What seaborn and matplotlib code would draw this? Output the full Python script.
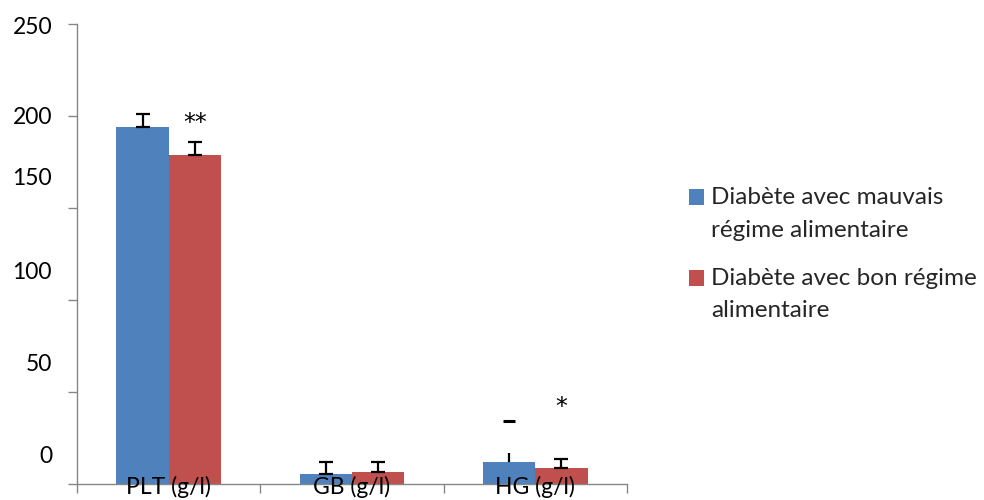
import numpy as np
import pandas as pd
import matplotlib
matplotlib.use("Agg")
import matplotlib.pyplot as plt
from matplotlib.patches import Rectangle
from matplotlib.legend_handler import HandlerPatch
import seaborn as sns

# ---- data ----
categories = ["PLT (g/l)", "GB (g/l)", "HG (g/l)"]
series_names = ["Diabète avec mauvais\nrégime alimentaire",
                "Diabète avec bon régime\nalimentaire"]
bad_diet = [194, 5.5, 12]
good_diet = [179, 6.5, 8.7]
bad_err = [7, 6.5, 5]
good_err = [7, 5.5, 5]
bad_err_cap = [True, True, False]
good_err_cap = [True, True, True]
hg_dash_value = 34
star_labels = {("PLT (g/l)", 1): ("**", 196), ("HG (g/l)", 1): ("*", 42)}
ytick_values = [0, 50, 100, 150, 200, 250]
ytick_label_pos = [16, 66, 116, 167, 200, 249]
ytick_labels = ["0", "50", "100", "150", "200", "250"]

colors = ["#4F81BD", "#C0504D"]
gray = "#868686"

df = pd.DataFrame({
    "cat": categories * 2,
    "serie": [series_names[0]] * 3 + [series_names[1]] * 3,
    "val": bad_diet + good_diet,
})

sns.set_style("white")
plt.rcParams["font.family"] = ["Lato", "DejaVu Sans"]

fig = plt.figure(figsize=(9.84, 5.0), dpi=100)
ax = fig.add_axes([77 / 984, 16 / 500, 550 / 984, 460 / 500])

sns.barplot(data=df, x="cat", y="val", hue="serie", palette=colors,
            order=categories, hue_order=series_names, width=0.57,
            errorbar=None, saturation=1, ax=ax, linewidth=0)
ax.set_axisbelow(False)

# error bars from bar geometry
patches = [p for p in ax.patches if p.get_height() > 0]
patches = sorted(patches, key=lambda p: p.get_x())
centers = [p.get_x() + p.get_width() / 2 for p in patches]
vals = [bad_diet[0], good_diet[0], bad_diet[1], good_diet[1], bad_diet[2], good_diet[2]]
errs = [bad_err[0], good_err[0], bad_err[1], good_err[1], bad_err[2], good_err[2]]
caps = [bad_err_cap[0], good_err_cap[0], bad_err_cap[1], good_err_cap[1], bad_err_cap[2], good_err_cap[2]]
for xc, v, e, c in zip(centers, vals, errs, caps):
    ax.errorbar([xc], [v], yerr=[[0], [e]], fmt="none", ecolor="black",
                elinewidth=1.6, capsize=4.8 if c else 0, capthick=1.6)

# dash above HG bad-diet bar
ax.plot([centers[4]], [hg_dash_value], marker="_", markersize=9,
        markeredgewidth=2.2, color="black")

# significance stars
for (cat, s), (txt, yv) in star_labels.items():
    idx = categories.index(cat) * 2 + s
    ax.text(centers[idx], yv, txt, ha="center", va="center", fontsize=17,
            color="black", family=["DejaVu Sans"])

ax.set_xlim(-0.5, 2.5)
ax.set_ylim(0, 250)
ax.set_xlabel("")
ax.set_ylabel("")

ax.yaxis.remove_overlapping_locs = False
ax.set_yticks(ytick_values)
ax.set_yticklabels([""] * len(ytick_values))
ax.set_yticks(ytick_label_pos, minor=True)
ax.set_yticklabels(ytick_labels, minor=True)
ax.tick_params(axis="y", which="major", length=6.5, width=1, color=gray, direction="out", left=True)
ax.tick_params(axis="y", which="minor", length=0, pad=18, labelsize=16.5, labelcolor="black")

ax.set_xticks(range(len(categories)))
ax.set_xticklabels(categories)
ax.set_xticks([-0.5, 0.5, 1.5, 2.5], minor=True)
ax.tick_params(axis="x", which="major", length=0, pad=-6, labelsize=16.5, labelcolor="black")
ax.tick_params(axis="x", which="minor", length=6.5, width=1, color=gray, direction="out", bottom=True)

for side in ["top", "right"]:
    ax.spines[side].set_visible(False)
for side in ["left", "bottom"]:
    ax.spines[side].set_color(gray)
    ax.spines[side].set_linewidth(1.0)


class TopSquareHandler(HandlerPatch):
    def create_artists(self, legend, orig_handle, xdescent, ydescent,
                       width, height, fontsize, trans):
        shift = 12.0
        p = Rectangle((-xdescent, -ydescent + shift), width, height,
                      facecolor=orig_handle.get_facecolor(), edgecolor="none",
                      transform=trans)
        return [p]


handles, labels = ax.get_legend_handles_labels()
leg = ax.legend(handles, labels, loc="upper left",
                bbox_to_anchor=(689 / 984, 1 - 187 / 500),
                bbox_transform=fig.transFigure, frameon=False, fontsize=17.5,
                handlelength=0.62, handleheight=0.62, handletextpad=0.3,
                labelspacing=1.12, borderpad=0, borderaxespad=0,
                handler_map={Rectangle: TopSquareHandler()})
for t in leg.get_texts():
    t.set_linespacing(1.68)

fig.savefig("out.png", dpi=100)
